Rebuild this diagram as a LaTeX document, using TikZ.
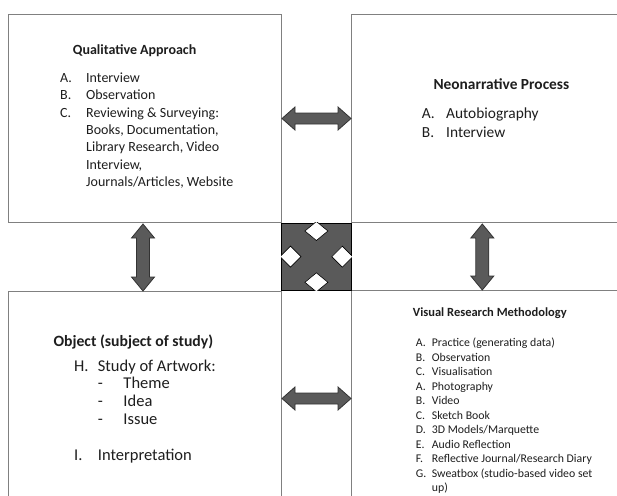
\documentclass[tikz,border=0pt]{standalone}
\usepackage{fontspec}
\setmainfont{Carlito}
\usetikzlibrary{calc}
\definecolor{boxline}{HTML}{808080}
\definecolor{arrfill}{HTML}{5A5A5A}
\definecolor{arrline}{HTML}{333333}
\definecolor{txtcol}{HTML}{1E1E1E}
\begin{document}
\begin{tikzpicture}[x=1pt,y=-1pt,
  box/.style={draw=boxline,line width=1pt,fill=white,inner sep=0pt,anchor=north west},
  fatarrow/.style={fill=arrfill,draw=arrline,line width=0.8pt,line join=miter},
  txt/.style={inner sep=0pt,anchor=base west,text=txtcol},
  diam/.style={fill=white,draw=black,line width=0.6pt}]
\clip (0,0) rectangle (617,495);
\fill[white] (0,0) rectangle (617,495);
% boxes
\node[box,minimum width=273,minimum height=208] (tl) at (8,14) {};
\node[box,minimum width=300,minimum height=208] (tr) at (351,14) {};
\node[box,minimum width=273,minimum height=214] (bl) at (8,291) {};
\node[box,minimum width=300,minimum height=216] (br) at (351,290) {};
% centre square
\node[box,draw=black,line width=0.8pt,fill=arrfill,minimum width=70,minimum height=67.5] (cx) at (281,222.5) {};
\begin{scope}
\clip (cx.north west) rectangle (cx.south east);
\draw[diam] ($(cx.north)+(0,-1)$) -- ++(11.5,9.5) -- ++(-11.5,9.5) -- ++(-11.5,-9.5) -- cycle;
\draw[diam] ($(cx.south)+(0,1)$) -- ++(11.5,-9.5) -- ++(-11.5,-9.5) -- ++(-11.5,9.5) -- cycle;
\draw[diam] ($(cx.west)+(-1,0)$) -- ++(10.5,-10.5) -- ++(10.5,10.5) -- ++(-10.5,10.5) -- cycle;
\draw[diam] ($(cx.east)+(1,0)$) -- ++(-10.5,-10.5) -- ++(-10.5,10.5) -- ++(10.5,10.5) -- cycle;
\end{scope}
% horizontal double arrows
\draw[fatarrow] (tl.east) -- ++(13,-11.5) -- ++(0,6) -- ($(tr.west)+(-13,-5.5)$) -- ++(0,-6) -- (tr.west)
  -- ++(-13,11.5) -- ++(0,-6) -- ($(tl.east)+(13,5.5)$) -- ++(0,6) -- cycle;
\draw[fatarrow] (bl.east) -- ++(13,-11.5) -- ++(0,6) -- ($(br.west)+(-13,-5.5)$) -- ++(0,-6) -- (br.west)
  -- ++(-13,11.5) -- ++(0,-6) -- ($(bl.east)+(13,5.5)$) -- ++(0,6) -- cycle;
% vertical double arrows
\coordinate (la) at ($(tl.south)+(-2,1)$);
\coordinate (lb) at ($(la |- bl.north)$);
\draw[fatarrow] (la) -- ++(11.5,14) -- ++(-5,0) -- ($(lb)+(6.5,-14)$) -- ++(5,0) -- (lb)
  -- ++(-11.5,-14) -- ++(5,0) -- ($(la)+(-6.5,14)$) -- ++(-5,0) -- cycle;
\coordinate (ra) at ($(tr.south west)+(131.3,1)$);
\coordinate (rb) at ($(ra |- br.north)$);
\draw[fatarrow] (ra) -- ++(11.5,14) -- ++(-5,0) -- ($(rb)+(6.5,-14)$) -- ++(5,0) -- (rb)
  -- ++(-11.5,-14) -- ++(5,0) -- ($(ra)+(-6.5,14)$) -- ++(-5,0) -- cycle;
% texts: qualitative approach
\node[txt,font=\bfseries\fontsize{14}{17}\selectfont] (qat) at (72.7,54.2) {Qualitative Approach};
\node[txt,font=\fontsize{14}{17.4}\selectfont] (qal) at (60,82.2) {\begin{tabular}[t]{@{}p{26pt}@{}l@{}}
A. & Interview\\
B. & Observation\\
C. & Reviewing \& Surveying:\\
   & Books, Documentation,\\
   & Library Research, Video\\
   & Interview,\\
   & Journals/Articles, Website
\end{tabular}};
% neonarrative
\node[txt,font=\bfseries\fontsize{15.4}{19}\selectfont] (nat) at (433.3,89.6) {Neonarrative Process};
\node[txt,font=\fontsize{15.4}{19}\selectfont] (nal) at (421.7,118.9) {\begin{tabular}[t]{@{}p{24.3pt}@{}l@{}}
A. & Autobiography\\
B. & Interview
\end{tabular}};
% object
\node[txt,font=\bfseries\fontsize{15.7}{19}\selectfont] (obt) at (53.3,346.4) {Object (subject of study)};
\node[txt,font=\fontsize{16.5}{17.8}\selectfont] (obl) at (74,371) {\begin{tabular}[t]{@{}p{23.7pt}@{}l@{}}
H. & Study of Artwork:\\
   & \makebox[25.6pt][l]{-}Theme\\
   & \makebox[25.6pt][l]{-}Idea\\
   & \makebox[25.6pt][l]{-}Issue\\
   & \\
I. & Interpretation
\end{tabular}};
% visual research methodology
\node[txt,font=\bfseries\fontsize{12.5}{15}\selectfont] (vrt) at (412.7,316.6) {Visual Research Methodology};
\node[txt,font=\fontsize{11.8}{14.5}\selectfont] (vrl) at (415.7,346.6) {\begin{tabular}[t]{@{}p{16pt}@{}l@{}}
A. & Practice (generating data)\\
B. & Observation\\
C. & Visualisation\\
A. & Photography\\
B. & Video\\
C. & Sketch Book\\
D. & 3D Models/Marquette\\
E. & Audio Reflection\\
F. & Reflective Journal/Research Diary\\
G. & Sweatbox (studio-based video set\\
   & up)
\end{tabular}};
\end{tikzpicture}
\end{document}
